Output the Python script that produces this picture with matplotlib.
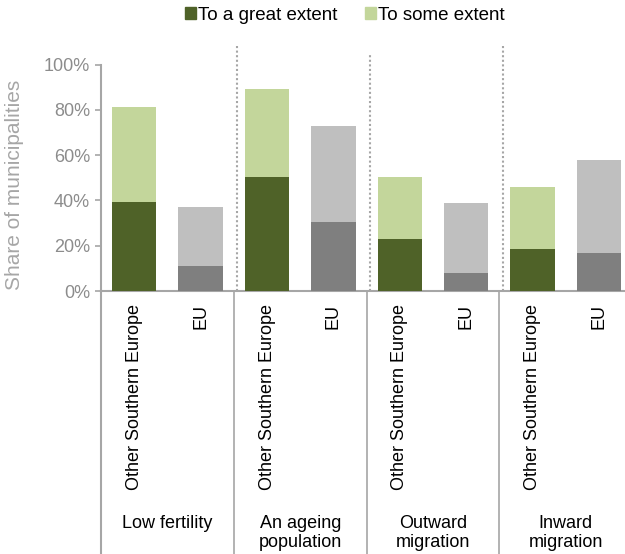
import numpy as np
import matplotlib.pyplot as plt
import matplotlib.transforms as mtransforms
from matplotlib.ticker import PercentFormatter
from matplotlib.patches import Patch

plt.rcParams['font.family'] = ['Liberation Sans', 'DejaVu Sans']

# data (share of municipalities, %)
groups = ['Low fertility', 'An ageing\npopulation', 'Outward\nmigration', 'Inward\nmigration']
regions = ['Other Southern Europe', 'EU']
great_extent = [39.3, 10.9, 50.5, 30.6, 23.0, 8.0, 18.5, 16.8]
some_extent = [42.1, 26.2, 38.8, 42.2, 27.3, 30.9, 27.3, 41.0]

# colours
DARK_GREEN = '#4F6228'
LIGHT_GREEN = '#C3D69B'
DARK_GREY = '#7F7F7F'
LIGHT_GREY = '#BFBFBF'
AXIS_GREY = '#A6A6A6'
TEXT_GREY = '#8C8C8C'

labels = regions * len(groups)
x = np.arange(len(labels))
dark_cols = [DARK_GREEN if r == regions[0] else DARK_GREY for r in labels]
light_cols = [LIGHT_GREEN if r == regions[0] else LIGHT_GREY for r in labels]

fig = plt.figure(figsize=(6.25, 5.54), dpi=100)
ax = fig.add_axes([0.1616, 0.4747, 0.85, 0.4088])

ax.bar(x, great_extent, width=0.67, color=dark_cols, zorder=3)
ax.bar(x, some_extent, width=0.67, bottom=great_extent, color=light_cols, zorder=3)

ax.set_xlim(-0.5, len(labels) - 0.5)
ax.set_ylim(0, 100)
ax.set_yticks(np.arange(0, 101, 20))
ax.yaxis.set_major_formatter(PercentFormatter(decimals=0))
ax.tick_params(axis='y', colors=AXIS_GREY, labelcolor=TEXT_GREY, labelsize=13,
               length=4, width=1.2, pad=4)
ax.set_xticks(x)
ax.set_xticklabels(labels, rotation=90, va='top', fontsize=13)
ax.tick_params(axis='x', length=0, pad=9.5)

ax.set_ylabel('Share of municipalities', fontsize=15, color=AXIS_GREY)
ax.yaxis.set_label_coords(-0.145, 0.47)

for s in ['top', 'right']:
    ax.spines[s].set_visible(False)
for s in ['left', 'bottom']:
    ax.spines[s].set_color(AXIS_GREY)
    ax.spines[s].set_linewidth(1.5)

trans = mtransforms.blended_transform_factory(ax.transData, ax.transAxes)

# left spine continues down through the label area
ax.plot([-0.5, -0.5], [0, -1.2], color=AXIS_GREY, lw=1.5, transform=trans, clip_on=False)

# group separators
tops = [1.08, 1.05, 1.09]
for i, b in enumerate([1.5, 3.5, 5.5]):
    ax.plot([b + 0.05, b + 0.05], [0, tops[i]], color=AXIS_GREY, lw=1.5, ls=(0, (1, 1.2)),
            transform=trans, clip_on=False)
    ax.plot([b, b], [0, -1.2], color=AXIS_GREY, lw=1.2, transform=trans, clip_on=False)

# group labels
for i, g in enumerate(groups):
    ax.text(2 * i + 0.5, -0.99, g, transform=trans, ha='center', va='top',
            fontsize=13, linespacing=1.15)

handles = [Patch(color=DARK_GREEN, label='To a great extent'),
           Patch(color=LIGHT_GREEN, label='To some extent')]
fig.legend(handles=handles, loc='center', bbox_to_anchor=(0.552, 0.972), ncol=2,
           frameon=False, fontsize=13.5, handlelength=0.6, handleheight=0.6,
           handletextpad=0.12, columnspacing=1.45, borderpad=0)

fig.savefig('out.png', dpi=100)
